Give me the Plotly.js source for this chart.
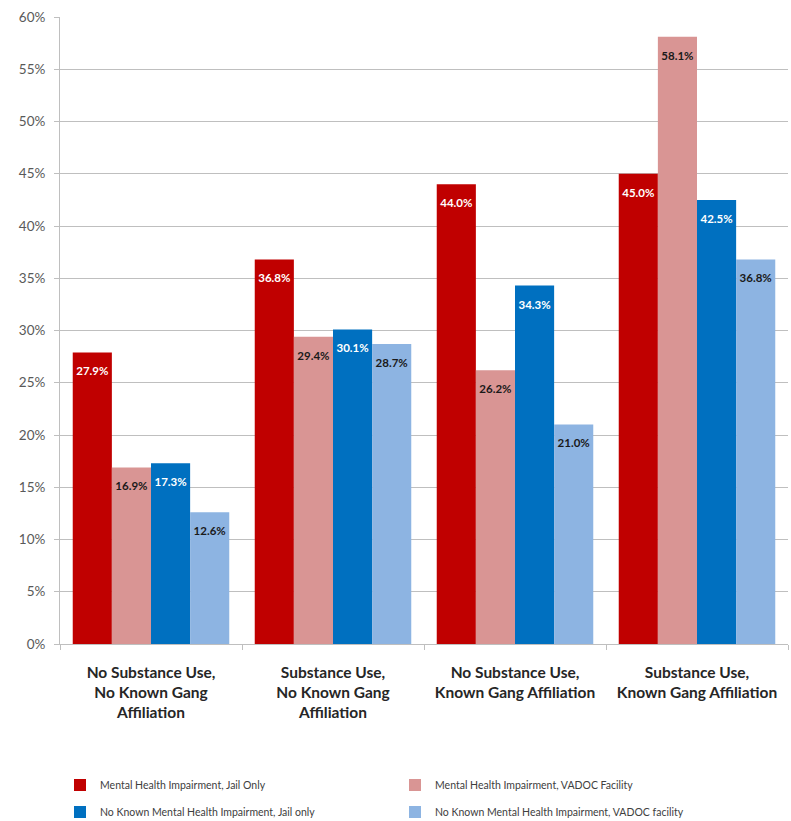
<!DOCTYPE html>
<html><head><meta charset="utf-8">
<script src="https://cdn.plot.ly/plotly-3.0.1.min.js"></script>
<style>body{margin:0;background:#fff}#c{width:791px;height:821px}</style>
</head><body><div id="c"></div>
<script>
var categories = ["No Substance Use,<br>No Known Gang<br>Affiliation", "Substance Use,<br>No Known Gang<br>Affiliation", "No Substance Use,<br>Known Gang Affiliation", "Substance Use,<br>Known Gang Affiliation"];
var seriesNames = ["Mental Health Impairment, Jail Only", "Mental Health Impairment, VADOC Facility", "No Known Mental Health Impairment, Jail only", "No Known Mental Health Impairment, VADOC facility"];
var mhJail = [27.9, 36.8, 44.0, 45.0];
var mhVadoc = [16.9, 29.4, 26.2, 58.1];
var noMhJail = [17.3, 30.1, 34.3, 42.5];
var noMhVadoc = [12.6, 28.7, 21.0, 36.8];
var yTickVals = [0,5,10,15,20,25,30,35,40,45,50,55,60];
var yTickText = ["0%","5%","10%","15%","20%","25%","30%","35%","40%","45%","50%","55%","60%"];

var colors = ["#C00000", "#D99594", "#0070C0", "#8DB4E2"];
var textColors = ["#ffffff", "#1a1a1a", "#ffffff", "#1a1a1a"];
var legends = ["legend", "legend", "legend2", "legend2"];
var data = [mhJail, mhVadoc, noMhJail, noMhVadoc].map(function(v, i){
  return {
    type: "bar", x: categories, y: v, name: seriesNames[i],
    marker: {color: colors[i]},
    text: v.map(function(d){return "<span style='font-size:5px'> </span><br>" + d.toFixed(1) + "%";}),
    textposition: "inside", insidetextanchor: "end", constraintext: "none",
    textangle: 0, cliponaxis: false,
    textfont: {family: "Lato, sans-serif", size: 11.5, color: textColors[i], weight: "bold"},
    hoverinfo: "none", legend: legends[i]
  };
});

var legendCommon = {orientation: "h", x: 0.0, xanchor: "left", yanchor: "middle",
  itemwidth: 30, entrywidth: 290, entrywidthmode: "pixels",
  font: {size: 10.5, color: "#404040", family: "Lato, sans-serif"}, traceorder: "normal"};

var layout = {
  width: 791, height: 821,
  margin: {l: 60, r: 3, t: 17, b: 177, autoexpand: false},
  paper_bgcolor: "#fff", plot_bgcolor: "#fff",
  barmode: "group", bargap: 0.14, bargroupgap: 0,
  font: {family: "Lato, sans-serif", color: "#595959"},
  xaxis: {
    type: "category", tickson: "boundaries", ticks: "outside", ticklen: 5, tickcolor: "#bfbfbf",
    showline: true, linecolor: "#bfbfbf", linewidth: 1, automargin: false,
    tickfont: {size: 15.5, color: "#262626", weight: "bold", family: "Lato, sans-serif"},
    ticklabelstandoff: 14, showgrid: false
  },
  yaxis: {
    range: [0, 60], tickvals: yTickVals, ticktext: yTickText,
    ticks: "outside", ticklen: 5, tickcolor: "#bfbfbf", automargin: false,
    showline: true, linecolor: "#bfbfbf", linewidth: 1,
    gridcolor: "#bfbfbf", gridwidth: 1, zeroline: false,
    ticklabelstandoff: 6,
    tickfont: {size: 13.5, color: "#595959"}
  },
  legend: Object.assign({y: -0.225}, legendCommon),
  legend2: Object.assign({y: -0.268}, legendCommon),
  showlegend: true
};
Plotly.newPlot("c", data, layout, {displayModeBar: false, staticPlot: true});
</script></body></html>
